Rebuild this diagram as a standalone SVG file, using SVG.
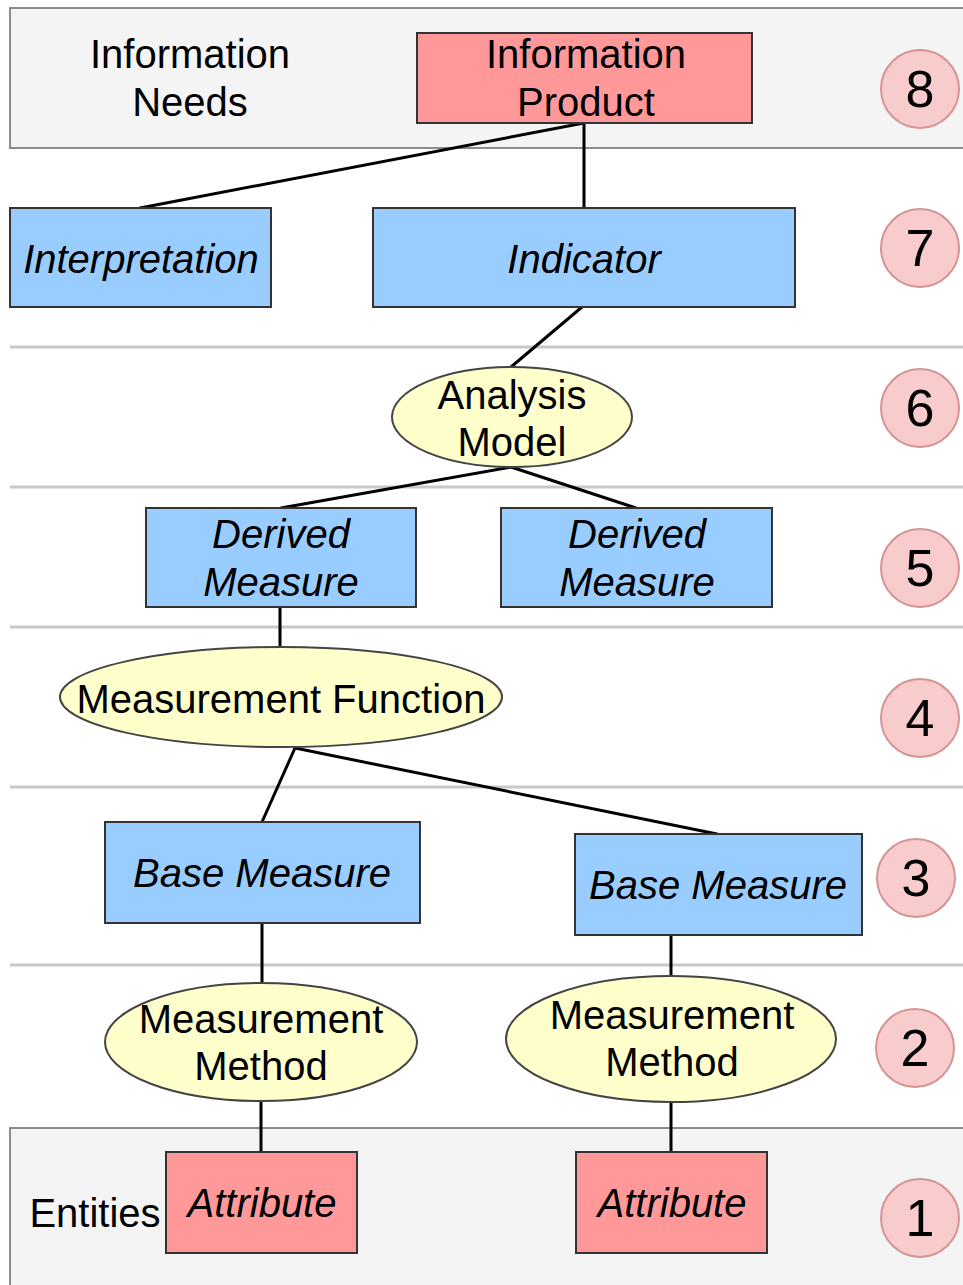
<svg xmlns="http://www.w3.org/2000/svg" width="963" height="1285" viewBox="0 0 963 1285">
  <style>
    .band { fill: #f4f4f4; stroke: #8c8c8c; stroke-width: 2; }
    .sep { stroke: #c8c8c8; stroke-width: 3; }
    .red { fill: #ff9999; stroke: #333; stroke-width: 2; }
    .blue { fill: #99ccff; stroke: #333; stroke-width: 2; }
    .oval { fill: #ffffcc; stroke: #444; stroke-width: 2; }
    .badge { fill: #f8cccc; stroke: #d49494; stroke-width: 2; }
    .conn { stroke: #000; stroke-width: 3; fill: none; stroke-linecap: round; }
    text { font-family: "Liberation Sans", Arial, sans-serif; font-size: 40px; fill: #000; text-anchor: middle; }
    .it { font-style: italic; }
    .num { font-size: 52px; }
  </style>

  <!-- level bands -->
  <rect class="band" x="10" y="8" width="960" height="140"/>
  <rect class="band" x="10" y="1128" width="960" height="170"/>
  <g id="separators">
    <line class="sep" x1="10" y1="347" x2="963" y2="347"/>
    <line class="sep" x1="10" y1="487" x2="963" y2="487"/>
    <line class="sep" x1="10" y1="627" x2="963" y2="627"/>
    <line class="sep" x1="10" y1="787" x2="963" y2="787"/>
    <line class="sep" x1="10" y1="965" x2="963" y2="965"/>
  </g>

  <text x="190" y="68">Information</text>
  <text x="190" y="116">Needs</text>
  <text x="95" y="1227">Entities</text>

  <!-- connectors -->
  <g id="connectors">
    <line class="conn" x1="584" y1="123" x2="140" y2="208"/>
    <line class="conn" x1="584" y1="123" x2="584" y2="208"/>
    <line class="conn" x1="582" y1="307" x2="511" y2="367"/>
    <line class="conn" x1="511" y1="467" x2="281" y2="508"/>
    <line class="conn" x1="511" y1="467" x2="636" y2="508"/>
    <line class="conn" x1="280" y1="607" x2="280" y2="647"/>
    <line class="conn" x1="295" y1="748" x2="262" y2="822"/>
    <line class="conn" x1="295" y1="748" x2="717" y2="834"/>
    <line class="conn" x1="262" y1="923" x2="262" y2="983"/>
    <line class="conn" x1="671" y1="935" x2="671" y2="976"/>
    <line class="conn" x1="261" y1="1102" x2="261" y2="1152"/>
    <line class="conn" x1="671" y1="1102" x2="671" y2="1152"/>
  </g>

  <!-- nodes -->
  <g id="information-product">
    <rect class="red" x="417" y="33" width="335" height="90"/>
    <text x="586" y="68">Information</text>
    <text x="586" y="116">Product</text>
  </g>
  <g id="interpretation">
    <rect class="blue" x="10" y="208" width="261" height="99"/>
    <text class="it" x="141" y="273">Interpretation</text>
  </g>
  <g id="indicator">
    <rect class="blue" x="373" y="208" width="422" height="99"/>
    <text class="it" x="584" y="273">Indicator</text>
  </g>
  <g id="analysis-model">
    <ellipse class="oval" cx="512" cy="417" rx="120" ry="50"/>
    <text x="512" y="409">Analysis</text>
    <text x="512" y="456">Model</text>
  </g>
  <g id="derived-measure-1">
    <rect class="blue" x="146" y="508" width="270" height="99"/>
    <text class="it" x="281" y="548">Derived</text>
    <text class="it" x="281" y="596">Measure</text>
  </g>
  <g id="derived-measure-2">
    <rect class="blue" x="501" y="508" width="271" height="99"/>
    <text class="it" x="637" y="548">Derived</text>
    <text class="it" x="637" y="596">Measure</text>
  </g>
  <g id="measurement-function">
    <ellipse class="oval" cx="281" cy="697" rx="221" ry="50"/>
    <text x="281" y="713">Measurement Function</text>
  </g>
  <g id="base-measure-1">
    <rect class="blue" x="105" y="822" width="315" height="101"/>
    <text class="it" x="262" y="887">Base Measure</text>
  </g>
  <g id="base-measure-2">
    <rect class="blue" x="575" y="834" width="287" height="101"/>
    <text class="it" x="718" y="899">Base Measure</text>
  </g>
  <g id="measurement-method-1">
    <ellipse class="oval" cx="261" cy="1042" rx="156" ry="59"/>
    <text x="261" y="1033">Measurement</text>
    <text x="261" y="1080">Method</text>
  </g>
  <g id="measurement-method-2">
    <ellipse class="oval" cx="671" cy="1039" rx="165" ry="63"/>
    <text x="672" y="1029">Measurement</text>
    <text x="672" y="1076">Method</text>
  </g>
  <g id="attribute-1">
    <rect class="red" x="166" y="1152" width="191" height="101"/>
    <text class="it" x="262" y="1217">Attribute</text>
  </g>
  <g id="attribute-2">
    <rect class="red" x="576" y="1152" width="191" height="101"/>
    <text class="it" x="672" y="1217">Attribute</text>
  </g>

  <!-- level badges -->
  <g id="level-badges">
    <circle class="badge" cx="920" cy="89" r="39"/>
    <text class="num" x="920" y="107">8</text>
    <circle class="badge" cx="920" cy="248" r="39"/>
    <text class="num" x="920" y="266">7</text>
    <circle class="badge" cx="920" cy="408" r="39"/>
    <text class="num" x="920" y="426">6</text>
    <circle class="badge" cx="920" cy="568" r="39"/>
    <text class="num" x="920" y="586">5</text>
    <circle class="badge" cx="920" cy="718" r="39"/>
    <text class="num" x="920" y="736">4</text>
    <circle class="badge" cx="916" cy="878" r="39"/>
    <text class="num" x="916" y="896">3</text>
    <circle class="badge" cx="915" cy="1048" r="39"/>
    <text class="num" x="915" y="1066">2</text>
    <circle class="badge" cx="920" cy="1218" r="39"/>
    <text class="num" x="920" y="1236">1</text>
  </g>
</svg>
